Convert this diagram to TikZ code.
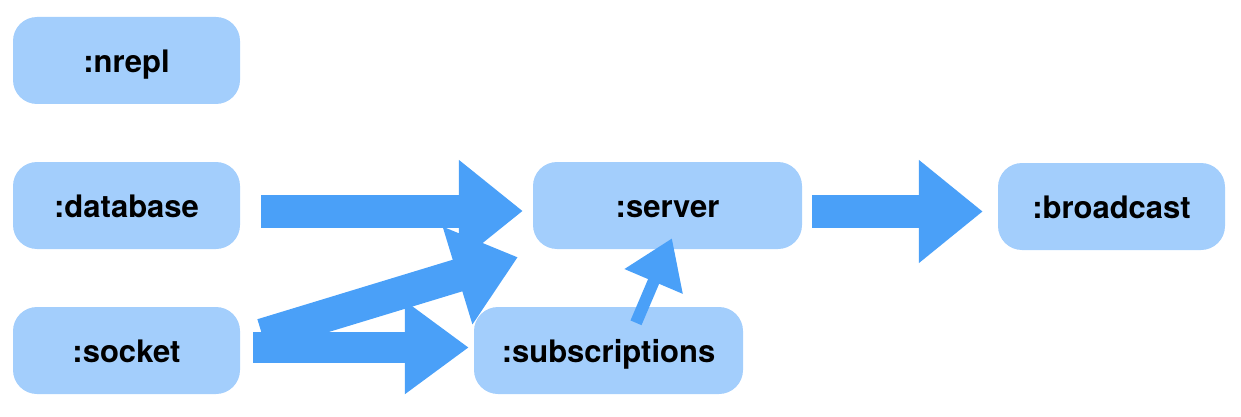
\documentclass[tikz,border=0pt]{standalone}
\usepackage{fontspec}
\setmainfont{TeX Gyre Heros}
\usetikzlibrary{arrows.meta}
\definecolor{boxblue}{RGB}{163,206,252}
\definecolor{arrblue}{RGB}{74,160,248}
\tikzset{
  box/.style={fill=boxblue, rounded corners=24pt, inner sep=0pt,
    minimum height=87pt, text height=27pt, text depth=3pt,
    font=\fontsize{31}{37}\selectfont\bfseries},
  bigarrow/.style={draw=arrblue, line width=33pt, line cap=butt,
    -{Triangle[length=64pt, width=98pt]}},
}
\begin{document}
\begin{tikzpicture}[x=1pt,y=-1pt]
\useasboundingbox (0,0) rectangle (1241,417);
\node[box, minimum width=227pt] (nrepl) at (126.5,60.5) {:nrepl};
\node[box, minimum width=227pt] (database) at (126.5,205.5) {:database};
\node[box, minimum width=227pt] (socket) at (126.5,350.5) {:socket};
\node[box, minimum width=269pt] (server) at (667.5,205.5) {:server};
\node[box, minimum width=227pt] (broadcast) at (1111.5,206.5) {:broadcast};
\node[box, minimum width=269pt] (subscriptions) at (608.5,350.5) {:subscriptions};

\draw[bigarrow] ([xshift=21pt,yshift=-5.5pt]database.east) -- ([xshift=-10pt,yshift=-5.5pt]server.west);
\draw[bigarrow, -{Triangle[length=64pt, width=99pt]}] ([xshift=10pt,yshift=-6pt]server.east) -- ([xshift=-15pt,yshift=-5pt]broadcast.west);
\draw[bigarrow, line width=31pt, -{Triangle[length=64pt, width=89pt]}] ([xshift=13pt,yshift=3pt]socket.east) -- ([xshift=-5pt,yshift=3pt]subscriptions.west);
\draw[bigarrow, -{Triangle[length=63pt, width=98pt]}] ([xshift=22pt,yshift=15.5pt]socket.east) -- ([xshift=-15pt,yshift=-8pt]server.south west);
\draw[bigarrow, line width=12pt, -{Triangle[length=47pt, width=60pt]}] ([xshift=27.5pt,yshift=-16pt]subscriptions.north) -- ([xshift=4.5pt,yshift=11pt]server.south);
\end{tikzpicture}
\end{document}
